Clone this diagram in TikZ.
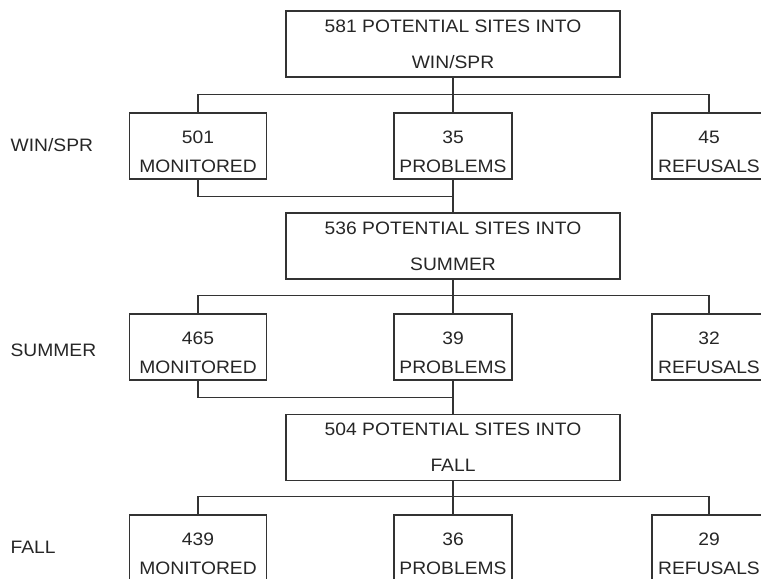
\documentclass[tikz,border=0pt]{standalone}
\usepackage{fontspec}
\setmainfont[FakeStretch=1.07]{Liberation Sans}
\newcommand{\hstrut}{\rule{0pt}{24bp}}

\begin{document}
\begin{tikzpicture}[x=1bp, y=1bp, line width=1.3bp, draw=black!80, text=black!85,
	sitebox/.style={draw, minimum width=334bp, minimum height=66bp, inner sep=0pt, align=center, font=\fontsize{18bp}{36bp}\selectfont},
	countbox/.style={draw, minimum height=66bp, inner sep=0pt, align=center, font=\fontsize{18bp}{29bp}\selectfont},
	monbox/.style={countbox, minimum width=137bp},
	probbox/.style={countbox, minimum width=118bp},
	refbox/.style={countbox, minimum width=114bp},
	season/.style={anchor=west, inner sep=0pt, font=\fontsize{18bp}{20bp}\selectfont}]
			\useasboundingbox (0,0) rectangle (761,579);
			\clip (0,0) rectangle (761,579);
			% win/spr
			\node[sitebox] (sites1) at (453,535) {581 POTENTIAL SITES INTO\\WIN/SPR};
			\node[season] (win) at (10,434) {WIN/SPR};
			\node[monbox] (mon1) at (198,433) {\hstrut 501\\MONITORED};
			\node[probbox] (prob1) at (453,433) {\hstrut 35\\PROBLEMS};
			\node[refbox] (ref1) at (709,433) {\hstrut 45\\REFUSALS};
			% summer
			\node[sitebox] (sites2) at (453,333) {536 POTENTIAL SITES INTO\\SUMMER};
			\node[season] (summer) at (10,229) {SUMMER};
			\node[monbox] (mon2) at (198,232) {\hstrut 465\\MONITORED};
			\node[probbox] (prob2) at (453,232) {\hstrut 39\\PROBLEMS};
			\node[refbox] (ref2) at (709,232) {\hstrut 32\\REFUSALS};
			% fall
			\node[sitebox] (sites3) at (453,131.5) {504 POTENTIAL SITES INTO\\FALL};
			\node[season] (fall) at (10,32) {FALL};
			\node[monbox] (mon3) at (198,31) {\hstrut 439\\MONITORED};
			\node[probbox] (prob3) at (453,31) {\hstrut 36\\PROBLEMS};
			\node[refbox] (ref3) at (709,31) {\hstrut 29\\REFUSALS};
			% connectors
			\draw (sites1.south) -- (prob1.north);
			\draw (mon1.north) -- ++(0,18) -| (ref1.north);
			\draw (prob1.south) -- (sites2.north);
			\draw (mon1.south) -- ++(0,-17) -| (sites2.north);
			\draw (sites2.south) -- (prob2.north);
			\draw (mon2.north) -- ++(0,18) -| (ref2.north);
			\draw (prob2.south) -- (sites3.north);
			\draw (mon2.south) -- ++(0,-17) -| (sites3.north);
			\draw (sites3.south) -- (prob3.north);
			\draw (mon3.north) -- ++(0,18) -| (ref3.north);
		\end{tikzpicture}
\end{document}
